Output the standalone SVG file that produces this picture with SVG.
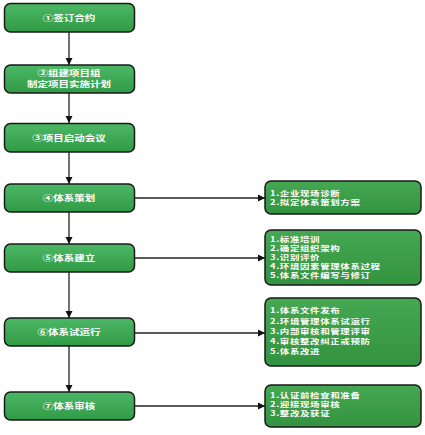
<svg xmlns="http://www.w3.org/2000/svg" width="425" height="435" viewBox="0 0 425 435">
<defs>
<linearGradient id="gl" x1="0" y1="0" x2="0" y2="1">
<stop offset="0" stop-color="#4cb866"/>
<stop offset="1" stop-color="#319a45"/>
</linearGradient>
<linearGradient id="gr" x1="0" y1="0" x2="0" y2="1">
<stop offset="0" stop-color="#46a852"/>
<stop offset="1" stop-color="#33923f"/>
</linearGradient>
<marker id="arr" markerWidth="8" markerHeight="8" refX="7" refY="4" orient="auto" markerUnits="userSpaceOnUse">
<path d="M0,0.5 L7,4 L0,7.5 Z" fill="#111"/>
</marker>
</defs>
<style>
.l{fill:url(#gl);stroke:#1a1a1a;stroke-width:1.5}
.r{fill:url(#gr);stroke:#1a1a1a;stroke-width:1.5}
text{font-family:"Noto Sans CJK SC","Noto Sans",sans-serif;font-weight:bold;font-size:8.2px;fill:#fff}
.c{text-anchor:middle}
.s{font-size:7.9px}
.t{font-size:7.3px;letter-spacing:0.46px}
.e{stroke:#222;stroke-width:1.3;fill:none;marker-end:url(#arr)}
</style>
<g id="connectors">
<line class="e" x1="69" y1="32" x2="69" y2="65"/>
<line class="e" x1="69" y1="93" x2="69" y2="123"/>
<line class="e" x1="69" y1="152" x2="69" y2="184"/>
<line class="e" x1="69" y1="212" x2="69" y2="244"/>
<line class="e" x1="69" y1="272" x2="69" y2="318"/>
<line class="e" x1="69" y1="346" x2="69" y2="392"/>
<line class="e" x1="134" y1="198" x2="265" y2="198"/>
<line class="e" x1="134" y1="258" x2="265" y2="258"/>
<line class="e" x1="134" y1="333" x2="265" y2="333"/>
<line class="e" x1="134" y1="406" x2="265" y2="406"/>
</g>
<g id="n1"><rect class="l" x="4.5" y="3.5" width="130" height="28.5" rx="6"/><text class="c" transform="translate(69,21) scale(1.28,1)">①签订合约</text></g>
<g id="n2"><rect class="l" x="4.5" y="65" width="130" height="28" rx="6"/><text class="c s" transform="translate(69,76.3) scale(1.33,1)">②组建项目组<tspan x="0" dy="10.6">制定项目实施计划</tspan></text></g>
<g id="n3"><rect class="l" x="4.5" y="123.5" width="130" height="28.5" rx="6"/><text class="c" transform="translate(69,141) scale(1.28,1)">③项目启动会议</text></g>
<g id="n4"><rect class="l" x="4.5" y="184" width="130" height="28" rx="6"/><text class="c" transform="translate(69,201.2) scale(1.28,1)">④体系策划</text></g>
<g id="n5"><rect class="l" x="4.5" y="244" width="130" height="28" rx="6"/><text class="c" transform="translate(69,261.2) scale(1.28,1)">⑤体系建立</text></g>
<g id="n6"><rect class="l" x="4.5" y="318" width="130" height="28" rx="6"/><text class="c" transform="translate(69,335.2) scale(1.28,1)">⑥体系试运行</text></g>
<g id="n7"><rect class="l" x="4.5" y="392" width="130" height="28" rx="6"/><text class="c" transform="translate(69,409.2) scale(1.28,1)">⑦体系审核</text></g>
<g id="r1"><rect class="r" x="265" y="181" width="156" height="33" rx="6"/><text class="t" transform="translate(270,196) scale(1.3,1)">1.企业现场诊断<tspan x="0" dy="9.2">2.拟定体系策划方案</tspan></text></g>
<g id="r2"><rect class="r" x="265" y="230" width="156" height="55" rx="6"/><text class="t" transform="translate(270,242) scale(1.3,1)">1.标准培训<tspan x="0" dy="9">2.确定组织架构</tspan><tspan x="0" dy="9">3.识别评价</tspan><tspan x="0" dy="9">4.环境因素管理体系过程</tspan><tspan x="0" dy="9.4">5.体系文件编写与修订</tspan></text></g>
<g id="r3"><rect class="r" x="265" y="298" width="156" height="68" rx="6"/><text class="t" transform="translate(270,313) scale(1.3,1)">1.体系文件发布<tspan x="0" dy="11">2.环境管理体系试运行</tspan><tspan x="0" dy="10">3.内部审核和管理评审</tspan><tspan x="0" dy="10">4.审核整改纠正或预防</tspan><tspan x="0" dy="10">5.体系改进</tspan></text></g>
<g id="r4"><rect class="r" x="265" y="385" width="156" height="42" rx="6"/><text class="t" transform="translate(270,398) scale(1.3,1)">1.认证前检查和准备<tspan x="0" dy="9.1">2.迎接现场审核</tspan><tspan x="0" dy="9.1">3.整改及获证</tspan></text></g>
</svg>
